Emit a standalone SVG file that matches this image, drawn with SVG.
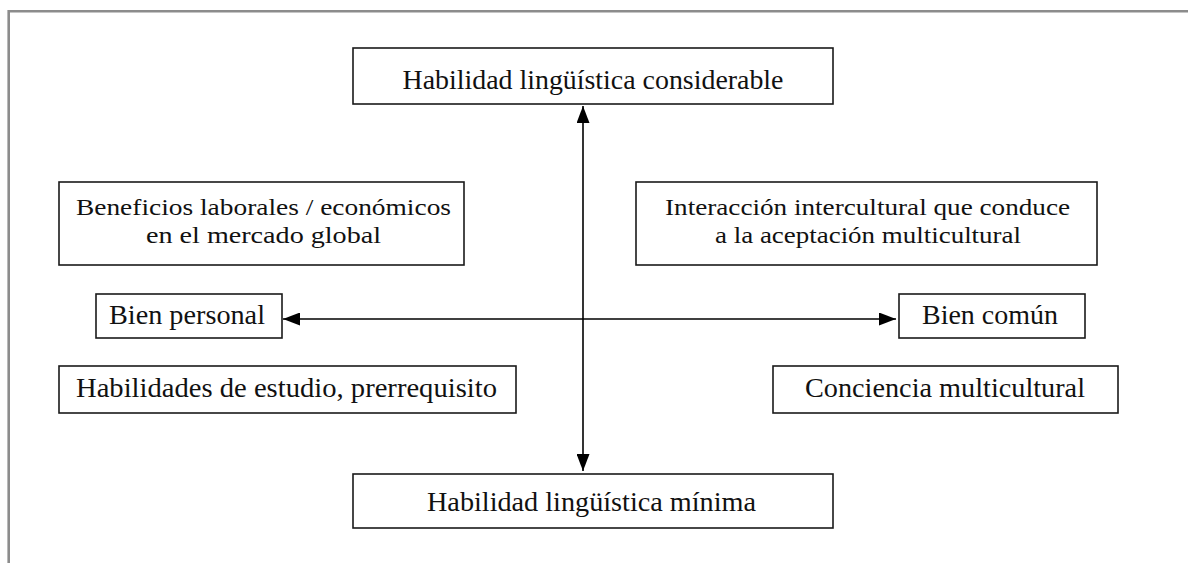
<svg xmlns="http://www.w3.org/2000/svg" width="1188" height="563" viewBox="0 0 1188 563">
<style>
.box{fill:#fff;stroke:#1a1a1a;stroke-width:1.6}
.t{font-family:"Liberation Serif","DejaVu Serif",serif;font-size:27px;fill:#111;text-anchor:middle}
.t2{font-family:"Liberation Serif","DejaVu Serif",serif;font-size:24px;fill:#111;text-anchor:middle}
.ax{stroke:#000;stroke-width:1.6;fill:none}
.frame{stroke:#8c8c8c;stroke-width:2.6;fill:none}
</style>
<defs>
<marker id="ah" viewBox="0 0 17 13" refX="17" refY="6.5" markerWidth="17" markerHeight="13" markerUnits="userSpaceOnUse" orient="auto-start-reverse">
<path d="M0,0 L17,6.5 L0,13 Z" fill="#000"/>
</marker>
</defs>
<rect width="1188" height="563" fill="#fff"/>
<path class="frame" d="M8.7,563 V11.3 H1188"/>
<g id="connectors">
<line class="ax" x1="583" y1="106" x2="583" y2="471" marker-start="url(#ah)" marker-end="url(#ah)"/>
<line class="ax" x1="283" y1="319" x2="896" y2="319" marker-start="url(#ah)" marker-end="url(#ah)"/>
</g>
<g id="n-top">
<rect class="box" x="353" y="48" width="480" height="56"/>
<text class="t" x="593" y="89" textLength="381" lengthAdjust="spacingAndGlyphs">Habilidad lingüística considerable</text>
</g>
<g id="n-beneficios">
<rect class="box" x="59" y="182" width="405" height="83"/>
<text class="t2" x="263.5" y="215" textLength="375" lengthAdjust="spacingAndGlyphs">Beneficios laborales / económicos</text>
<text class="t2" x="263.5" y="243" textLength="235" lengthAdjust="spacingAndGlyphs">en el mercado global</text>
</g>
<g id="n-interaccion">
<rect class="box" x="636" y="182" width="461" height="83"/>
<text class="t2" x="867.5" y="215" textLength="405" lengthAdjust="spacingAndGlyphs">Interacción intercultural que conduce</text>
<text class="t2" x="868" y="243" textLength="306" lengthAdjust="spacingAndGlyphs">a la aceptación multicultural</text>
</g>
<g id="n-personal">
<rect class="box" x="96" y="294" width="186" height="44"/>
<text class="t" x="187" y="324" textLength="156" lengthAdjust="spacingAndGlyphs">Bien personal</text>
</g>
<g id="n-comun">
<rect class="box" x="899" y="294" width="186" height="44"/>
<text class="t" x="990" y="324" textLength="136" lengthAdjust="spacingAndGlyphs">Bien común</text>
</g>
<g id="n-estudio">
<rect class="box" x="59" y="366" width="457" height="47"/>
<text class="t" x="286.5" y="397" textLength="421" lengthAdjust="spacingAndGlyphs">Habilidades de estudio, prerrequisito</text>
</g>
<g id="n-conciencia">
<rect class="box" x="773" y="366" width="345" height="47"/>
<text class="t" x="945" y="397" textLength="280" lengthAdjust="spacingAndGlyphs">Conciencia multicultural</text>
</g>
<g id="n-bottom">
<rect class="box" x="353" y="474" width="480" height="54"/>
<text class="t" x="591.5" y="511" textLength="329" lengthAdjust="spacingAndGlyphs">Habilidad lingüística mínima</text>
</g>
</svg>
